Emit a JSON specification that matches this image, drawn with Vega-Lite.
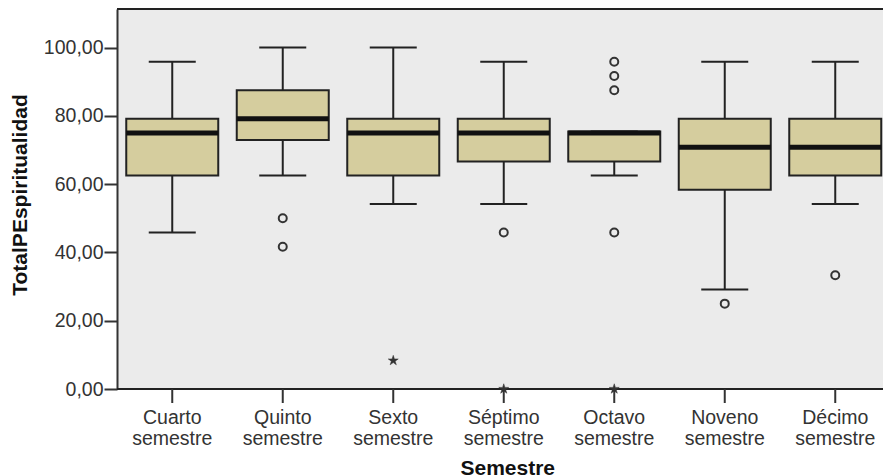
{
  "$schema": "https://vega.github.io/schema/vega-lite/v6.json",
  "autosize": "none",
  "width": 766,
  "height": 380,
  "padding": {"left": 117, "top": 9, "right": 0, "bottom": 87},
  "background": "#ffffff",
  "config": {
    "font": "Liberation Sans",
    "view": {"stroke": null, "fill": "#ebebeb"},
    "axisY": {
      "grid": false,
      "tickCount": 6,
      "labelExpr": "replace(format(datum.value, '.2f'), '.', ',')",
      "tickSize": 13,
      "tickWidth": 2,
      "tickColor": "#333333",
      "domainColor": "#333333",
      "domainWidth": 2,
      "labelFontSize": 19.5,
      "labelColor": "#333333",
      "labelPadding": 1,
      "titleFontSize": 21,
      "titleFontWeight": "bold",
      "titleColor": "#111111",
      "titleAngle": -90,
      "titleX": -91,
      "titleY": 185.5,
      "titleAlign": "center",
      "titleBaseline": "alphabetic"
    }
  },
  "datasets": {
    "border": [{"pos": 111.3}, {"pos": 0}],
    "stats": [
      {"semestre": "Cuarto semestre", "lower": 45.83, "q1": 62.5, "median": 75, "q3": 79.17, "upper": 95.83},
      {"semestre": "Quinto semestre", "lower": 62.5, "q1": 72.92, "median": 79.17, "q3": 87.5, "upper": 100},
      {"semestre": "Sexto semestre", "lower": 54.17, "q1": 62.5, "median": 75, "q3": 79.17, "upper": 100},
      {"semestre": "Séptimo semestre", "lower": 54.17, "q1": 66.67, "median": 75, "q3": 79.17, "upper": 95.83},
      {"semestre": "Octavo semestre", "lower": 62.5, "q1": 66.67, "median": 75, "q3": 75.4, "upper": 75.4},
      {"semestre": "Noveno semestre", "lower": 29.17, "q1": 58.33, "median": 70.83, "q3": 79.17, "upper": 95.83},
      {"semestre": "Décimo semestre", "lower": 54.17, "q1": 62.5, "median": 70.83, "q3": 79.17, "upper": 95.83}
    ],
    "outliers": [
      {"semestre": "Quinto semestre", "value": 50, "kind": "outlier"},
      {"semestre": "Quinto semestre", "value": 41.67, "kind": "outlier"},
      {"semestre": "Sexto semestre", "value": 8.33, "kind": "extreme"},
      {"semestre": "Séptimo semestre", "value": 45.83, "kind": "outlier"},
      {"semestre": "Séptimo semestre", "value": 0, "kind": "extreme"},
      {"semestre": "Octavo semestre", "value": 95.83, "kind": "outlier"},
      {"semestre": "Octavo semestre", "value": 91.67, "kind": "outlier"},
      {"semestre": "Octavo semestre", "value": 87.5, "kind": "outlier"},
      {"semestre": "Octavo semestre", "value": 45.83, "kind": "outlier"},
      {"semestre": "Octavo semestre", "value": 0, "kind": "extreme"},
      {"semestre": "Noveno semestre", "value": 25, "kind": "outlier"},
      {"semestre": "Décimo semestre", "value": 33.33, "kind": "outlier"}
    ]
  },
  "layer": [
    {
      "data": {"name": "border"},
      "mark": {"type": "rule", "color": "#222222", "strokeWidth": 2},
      "encoding": {
        "y": {"field": "pos", "type": "quantitative", "title": "TotalPEspiritualidad", "scale": {"domain": [0, 111.3], "nice": false, "zero": false}}
      }
    },
    {
      "data": {"name": "stats"},
      "mark": {"type": "rule", "color": "#333333", "strokeWidth": 2},
      "encoding": {
        "x": {"field": "semestre", "type": "nominal", "axis": null, "sort": ["Cuarto semestre", "Quinto semestre", "Sexto semestre", "Séptimo semestre", "Octavo semestre", "Noveno semestre", "Décimo semestre"], "scale": {"range": [0, 773.5], "paddingInner": 0, "paddingOuter": 0}},
        "y": {"datum": 0, "type": "quantitative"},
        "y2": {"datum": -4.1}
      }
    },
    {
      "data": {"name": "stats"},
      "mark": {"type": "text", "font": "Liberation Sans", "fontSize": 19.5, "color": "#333333", "baseline": "alphabetic", "align": "center", "lineBreak": " ", "lineHeight": 21, "dy": 35},
      "encoding": {
        "x": {"field": "semestre", "type": "nominal", "axis": null, "sort": ["Cuarto semestre", "Quinto semestre", "Sexto semestre", "Séptimo semestre", "Octavo semestre", "Noveno semestre", "Décimo semestre"]},
        "y": {"datum": 0, "type": "quantitative"},
        "text": {"field": "semestre"}
      }
    },
    {
      "data": {"name": "border"},
      "transform": [{"filter": "datum.pos == 0"}],
      "mark": {"type": "text", "font": "Liberation Sans", "fontSize": 21, "fontWeight": "bold", "color": "#111111", "baseline": "alphabetic", "align": "center", "dx": 4, "dy": 86},
      "encoding": {
        "x": {"datum": "Séptimo semestre", "type": "nominal", "axis": null},
        "y": {"datum": 0, "type": "quantitative"},
        "text": {"value": "Semestre"}
      }
    },
    {
      "data": {"name": "stats"},
      "mark": {"type": "rule", "color": "#222222", "strokeWidth": 2},
      "encoding": {
        "x": {"field": "semestre", "type": "nominal", "axis": null, "sort": ["Cuarto semestre", "Quinto semestre", "Sexto semestre", "Séptimo semestre", "Octavo semestre", "Noveno semestre", "Décimo semestre"]},
        "y": {"field": "lower", "type": "quantitative", "title": "TotalPEspiritualidad"},
        "y2": {"field": "upper"}
      }
    },
    {
      "data": {"name": "stats"},
      "mark": {"type": "tick", "color": "#222222", "size": 47, "thickness": 2, "opacity": 1},
      "encoding": {
        "x": {"field": "semestre", "type": "nominal", "axis": null, "sort": ["Cuarto semestre", "Quinto semestre", "Sexto semestre", "Séptimo semestre", "Octavo semestre", "Noveno semestre", "Décimo semestre"]},
        "y": {"field": "lower", "type": "quantitative", "title": "TotalPEspiritualidad"}
      }
    },
    {
      "data": {"name": "stats"},
      "mark": {"type": "tick", "color": "#222222", "size": 47, "thickness": 2, "opacity": 1},
      "encoding": {
        "x": {"field": "semestre", "type": "nominal", "axis": null, "sort": ["Cuarto semestre", "Quinto semestre", "Sexto semestre", "Séptimo semestre", "Octavo semestre", "Noveno semestre", "Décimo semestre"]},
        "y": {"field": "upper", "type": "quantitative", "title": "TotalPEspiritualidad"}
      }
    },
    {
      "data": {"name": "stats"},
      "mark": {"type": "bar", "width": 92, "fill": "#d5cd9e", "stroke": "#222222", "strokeWidth": 2, "opacity": 1},
      "encoding": {
        "x": {"field": "semestre", "type": "nominal", "axis": null, "sort": ["Cuarto semestre", "Quinto semestre", "Sexto semestre", "Séptimo semestre", "Octavo semestre", "Noveno semestre", "Décimo semestre"]},
        "y": {"field": "q1", "type": "quantitative", "title": "TotalPEspiritualidad"},
        "y2": {"field": "q3"}
      }
    },
    {
      "data": {"name": "stats"},
      "mark": {"type": "tick", "color": "#111111", "size": 92, "thickness": 5, "opacity": 1},
      "encoding": {
        "x": {"field": "semestre", "type": "nominal", "axis": null, "sort": ["Cuarto semestre", "Quinto semestre", "Sexto semestre", "Séptimo semestre", "Octavo semestre", "Noveno semestre", "Décimo semestre"]},
        "y": {"field": "median", "type": "quantitative", "title": "TotalPEspiritualidad"}
      }
    },
    {
      "data": {"name": "outliers"},
      "transform": [{"filter": "datum.kind == 'outlier'"}],
      "mark": {"type": "point", "shape": "circle", "filled": false, "stroke": "#333333", "strokeWidth": 2, "size": 64, "opacity": 1},
      "encoding": {
        "x": {"field": "semestre", "type": "nominal", "axis": null, "sort": ["Cuarto semestre", "Quinto semestre", "Sexto semestre", "Séptimo semestre", "Octavo semestre", "Noveno semestre", "Décimo semestre"]},
        "y": {"field": "value", "type": "quantitative", "title": "TotalPEspiritualidad"}
      }
    },
    {
      "data": {"name": "outliers"},
      "transform": [{"filter": "datum.kind == 'extreme'"}],
      "mark": {"type": "point", "shape": "M0,-1L0.2245,-0.309L0.951,-0.309L0.363,0.118L0.588,0.809L0,0.382L-0.588,0.809L-0.363,0.118L-0.951,-0.309L-0.2245,-0.309Z", "filled": true, "fill": "#333333", "stroke": "#333333", "strokeWidth": 0.5, "size": 110, "opacity": 1},
      "encoding": {
        "x": {"field": "semestre", "type": "nominal", "axis": null, "sort": ["Cuarto semestre", "Quinto semestre", "Sexto semestre", "Séptimo semestre", "Octavo semestre", "Noveno semestre", "Décimo semestre"]},
        "y": {"field": "value", "type": "quantitative", "title": "TotalPEspiritualidad"}
      }
    }
  ]
}
